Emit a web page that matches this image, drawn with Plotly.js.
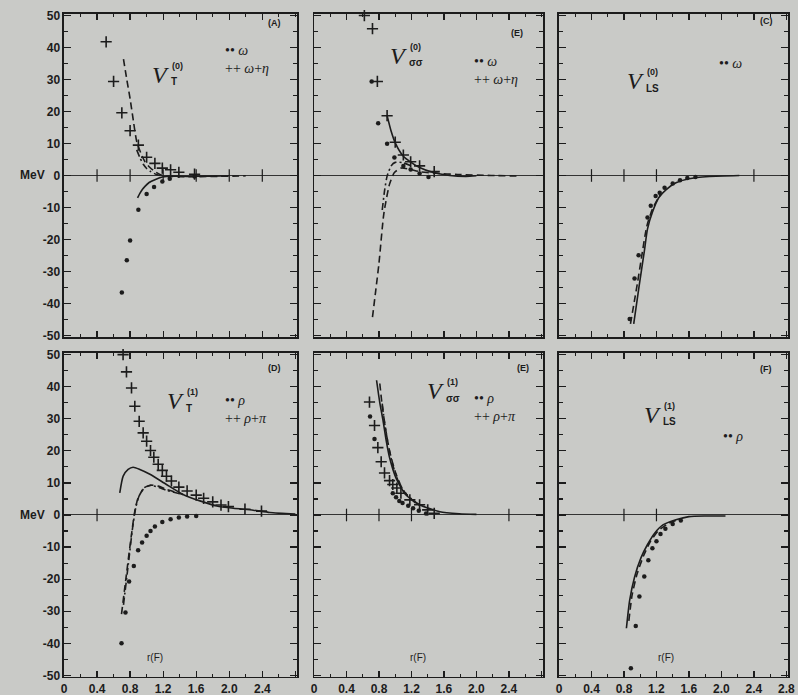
<!DOCTYPE html>
<html>
<head>
<meta charset="utf-8">
<script src="https://cdn.plot.ly/plotly-3.0.1.min.js"></script>
<style>html,body{margin:0;padding:0;background:#c9cac7;}#plot{width:798px;height:695px;}</style>
</head>
<body>
<div id="plot"></div>
<script>
// ---------- DATA ----------
// Panel A : V_T^(0)
const aCrossX = [0.51,0.60,0.70,0.80,0.90,1.00,1.10,1.19,1.29,1.39,1.58];
const aCrossY = [41.8,29.4,19.6,14.0,9.5,5.7,3.8,2.3,1.8,1.0,0.4];
const aDotX = [0.70,0.76,0.80,0.90,1.00,1.09,1.19,1.28,1.58];
const aDotY = [-36.6,-26.5,-20.3,-10.7,-5.8,-3.6,-1.9,-1.0,-0.3];
const aDashX = [0.72,0.76,0.80,0.84,0.88,0.93,0.98,1.04,1.10,1.19,1.30,1.50,1.80,2.20];
const aDashY = [36.4,30.0,24.0,17.0,10.6,7.0,4.3,2.5,1.2,0.0,-0.3,-0.4,-0.3,-0.1];
const aDashDotX = [0.88,0.92,0.96,1.00,1.05,1.12,1.20];
const aDashDotY = [8.0,5.5,3.5,2.2,1.2,0.3,-0.2];
const aSolidX = [0.89,0.92,0.95,0.98,1.03,1.10,1.19,1.30,1.50,1.80,2.00];
const aSolidY = [-7.0,-5.5,-4.3,-3.4,-2.2,-1.3,-0.5,-0.2,-0.3,-0.2,-0.1];
const aZeroTicks = [0.4,0.8,1.2,1.6,2.0,2.4];

// Panel B : V_sigma-sigma^(0)
const bCrossX = [0.62,0.72,0.78,0.90,1.00,1.10,1.19,1.30,1.48];
const bCrossY = [50.0,45.9,29.4,18.7,10.4,6.4,4.3,3.0,1.2];
const bDotX = [0.71,0.79,0.90,0.99,1.10,1.19,1.30,1.41];
const bDotY = [29.4,16.3,9.9,5.6,3.0,1.9,0.6,-0.5];
const bSolidX = [0.90,0.95,1.00,1.10,1.19,1.30,1.46,1.67,1.87,2.00];
const bSolidY = [18.7,13.8,10.2,6.0,4.2,2.5,1.0,0.0,-0.3,-0.1];
const bDashX = [0.72,0.76,0.80,0.86,0.93,0.99,1.07,1.17,1.30,1.50,1.77,2.18,2.53];
const bDashY = [-44.3,-36.0,-27.4,-11.9,-2.7,0.9,2.3,2.0,1.2,0.7,0.3,0.0,-0.2];
const bDashDotX = [0.84,0.87,0.90,0.95,1.00,1.09,1.20];
const bDashDotY = [-10.8,-4.5,-0.2,3.0,4.1,4.0,3.0];
const bZeroTicks = [];

// Panel C : V_LS^(0)
const cDotX = [0.87,0.93,0.98,1.09,1.13,1.19,1.24,1.30,1.40,1.49,1.58,1.68];
const cDotY = [-44.9,-32.2,-24.9,-13.1,-9.5,-6.4,-5.4,-3.8,-2.5,-1.5,-0.8,-0.5];
const cSolidX = [0.92,0.99,1.05,1.09,1.15,1.23,1.32,1.44,1.60,1.85,2.22];
const cSolidY = [-46.4,-34.0,-23.8,-16.7,-11.5,-6.9,-4.4,-2.3,-1.0,-0.3,0.0];
const cDashX = [0.88,0.93,0.97,1.02,1.08,1.15,1.25];
const cDashY = [-46.4,-39.0,-33.0,-25.0,-16.0,-10.5,-5.8];
const cZeroTicks = [0.4,0.8,1.2,2.4];

// Panel D : V_T^(1)
const dCrossX = [0.715,0.756,0.817,0.857,0.91,0.958,1.0,1.047,1.087,1.14,1.19,1.24,1.30,1.39,1.49,1.60,1.69,1.80,1.90,1.99,2.19,2.39];
const dCrossY = [50.0,44.6,39.6,33.9,29.2,25.6,23.0,20.1,18.0,15.8,13.9,12.1,10.6,8.7,7.5,6.2,5.2,4.1,3.1,2.6,1.8,1.2];
const dDotX = [0.696,0.744,0.788,0.845,0.897,0.945,1.0,1.047,1.10,1.19,1.29,1.39,1.49,1.60];
const dDotY = [-40.0,-30.4,-20.7,-15.9,-11.0,-8.6,-6.5,-5.0,-3.6,-2.2,-1.3,-0.8,-0.5,-0.3];
const dSolidX = [0.675,0.716,0.776,0.836,0.918,1.04,1.24,1.44,1.645,1.85,2.05,2.29,2.49,2.80];
const dSolidY = [6.9,12.1,14.2,14.9,14.2,12.7,9.5,6.4,4.4,2.8,2.1,1.5,0.8,0.3];
const dDashX = [0.696,0.756,0.817,0.857,0.897,0.958,1.04,1.14,1.24,1.44];
const dDashY = [-30.9,-18.4,-6.0,1.2,5.4,8.0,9.3,9.0,8.0,6.4];
const dDashDotX = [0.72,0.78,0.83,0.87,0.91,0.97,1.05,1.15,1.25,1.44];
const dDashDotY = [-28.0,-15.0,-4.0,2.5,6.0,8.5,9.2,8.6,7.6,6.4];
const dZeroTicks = [0.4];

// Panel E : V_sigma-sigma^(1)
const eCrossX = [0.683,0.745,0.786,0.827,0.868,0.93,0.97,1.02,1.07,1.18,1.30,1.40,1.48];
const eCrossY = [35.2,27.9,21.0,16.6,13.1,10.7,9.5,8.4,6.8,4.7,3.2,1.6,0.5];
const eDotX = [0.69,0.745,0.97,1.01,1.05,1.09,1.16,1.22,1.29,1.38];
const eDotY = [30.7,23.7,6.8,5.5,4.4,3.7,2.9,2.1,1.3,0.5];
const eSolidX = [0.77,0.81,0.85,0.89,0.93,1.01,1.13,1.30,1.55,1.79,2.00];
const eSolidY = [42.0,35.0,29.4,23.0,17.9,11.5,6.3,3.2,1.0,0.4,0.2];
const eDashX = [0.81,0.84,0.88,0.93,1.00,1.10,1.26];
const eDashY = [41.0,34.0,27.0,20.0,13.5,7.6,3.5];
const eDashDotX = [0.84,0.87,0.91,0.96,1.03,1.13,1.30];
const eDashDotY = [34.7,28.5,22.5,16.5,11.0,6.6,3.0];
const eZeroTicks = [0.4,0.8,1.2,2.4];

// Panel F : V_LS^(1)
const fDotX = [0.885,0.945,0.99,1.05,1.10,1.15,1.20,1.25,1.31,1.40,1.50];
const fDotY = [-47.8,-34.6,-25.4,-19.2,-14.1,-10.4,-8.2,-5.9,-4.3,-2.8,-1.7];
const fSolidX = [0.83,0.87,0.93,1.01,1.09,1.18,1.28,1.44,1.60,1.81,2.05];
const fSolidY = [-35.3,-26.6,-19.4,-13.3,-9.2,-5.6,-3.1,-1.5,-0.5,-0.3,-0.3];
const fDashX = [0.86,0.90,0.96,1.04,1.12,1.22,1.35,1.50];
const fDashY = [-33.0,-25.0,-18.5,-12.8,-8.5,-5.0,-2.6,-1.2];
const fZeroTicks = [0.8,1.2];

// Tick labels
const xTickVals = [0,0.4,0.8,1.2,1.6,2.0,2.4,2.8];
const xTickText = ['0','0.4','0.8','1.2','1.6','2.0','2.4',''];
const xTickTextLast = ['0','0.4','0.8','1.2','1.6','2.0','2.4','2.8'];
const yTickVals = [50,40,30,20,10,0,-10,-20,-30,-40,-50];
const yTickText = ['50','40','30','20','10','0','-10','-20','-30','-40','-50'];

// Panel texts
const panelTags = ['(A)','(E)','(C)','(D)','(E)','(F)'];
const potSub = ['T','σσ','LS','T','σσ','LS'];
const potSup = ['(0)','(0)','(0)','(1)','(1)','(1)'];
const legendText = [
  '•• <i>ω</i><br>++ <i>ω</i>+<i>η</i>',
  '•• <i>ω</i><br>++ <i>ω</i>+<i>η</i>',
  '•• <i>ω</i>',
  '•• <i>ρ</i><br>++ <i>ρ</i>+<i>π</i>',
  '•• <i>ρ</i><br>++ <i>ρ</i>+<i>π</i>',
  '•• <i>ρ</i>'
];

// ---------- STYLE / LAYOUT ----------
const INK = '#1c1c1c';
const BG = '#c9cac7';
const colDom = [[0.0802,0.3722],[0.3935,0.6805],[0.7005,0.9875]];
const rowDom = [[0.5151,0.9799],[0.0259,0.4921]];
const tickFont = {family:'Liberation Sans, Arial, sans-serif', size:12, color:INK, weight:'bold'};

const traces = [];
function pts(ax, x, y, kind){
  const m = kind==='dot'
    ? {symbol:'circle', size:4.5, color:INK}
    : {symbol:'cross-thin-open', size:8, line:{width:1.6, color:INK}, color:INK};
  traces.push({type:'scatter', mode:'markers', x:x, y:y, xaxis:'x'+ax, yaxis:'y'+ax, marker:m, showlegend:false, hoverinfo:'skip', cliponaxis:false});
}
function line(ax, x, y, dash){
  traces.push({type:'scatter', mode:'lines', x:x, y:y, xaxis:'x'+ax, yaxis:'y'+ax, line:{color:INK, width:1.6, dash:dash, shape:'spline', smoothing:0.6}, showlegend:false, hoverinfo:'skip'});
}
function zt(ax, x){
  if(!x.length) return;
  traces.push({type:'scatter', mode:'markers', x:x, y:x.map(()=>0), xaxis:'x'+ax, yaxis:'y'+ax, marker:{symbol:'line-ns-open', size:9, color:INK, line:{width:1.2, color:INK}}, showlegend:false, hoverinfo:'skip'});
}
const LONG = '7px,4px';
const DD = '7px,3px,2px,3px';

// A
zt('', aZeroTicks);
pts('', aCrossX, aCrossY, 'cross'); pts('', aDotX, aDotY, 'dot');
line('', aDashX, aDashY, LONG); line('', aDashDotX, aDashDotY, DD); line('', aSolidX, aSolidY, 'solid');
// B
zt('2', bZeroTicks);
pts('2', bCrossX, bCrossY, 'cross'); pts('2', bDotX, bDotY, 'dot');
line('2', bSolidX, bSolidY, 'solid'); line('2', bDashX, bDashY, LONG); line('2', bDashDotX, bDashDotY, DD);
// C
zt('3', cZeroTicks);
pts('3', cDotX, cDotY, 'dot');
line('3', cSolidX, cSolidY, 'solid'); line('3', cDashX, cDashY, LONG);
// D
zt('4', dZeroTicks);
pts('4', dCrossX, dCrossY, 'cross'); pts('4', dDotX, dDotY, 'dot');
line('4', dSolidX, dSolidY, 'solid'); line('4', dDashX, dDashY, LONG); line('4', dDashDotX, dDashDotY, DD);
// E
zt('5', eZeroTicks);
pts('5', eCrossX, eCrossY, 'cross'); pts('5', eDotX, eDotY, 'dot');
line('5', eSolidX, eSolidY, 'solid'); line('5', eDashX, eDashY, LONG); line('5', eDashDotX, eDashDotY, DD);
// F
zt('6', fZeroTicks);
pts('6', fDotX, fDotY, 'dot');
line('6', fSolidX, fSolidY, 'solid'); line('6', fDashX, fDashY, LONG);

const layout = {
  width:798, height:695,
  margin:{l:0,r:0,t:0,b:0},
  paper_bgcolor:BG, plot_bgcolor:BG,
  showlegend:false,
  annotations:[]
};

for(let i=0;i<6;i++){
  const n = i===0 ? '' : String(i+1);
  const col = i%3, row = Math.floor(i/3);
  layout['xaxis'+n] = {
    domain:colDom[col], range:[0,2.82], anchor:'y'+n,
    showline:true, linecolor:INK, linewidth:1.5, mirror:'ticks',
    ticks:'inside', ticklen:6, tickwidth:1.3, tickcolor:INK,
    tickmode:'array', tickvals:xTickVals,
    ticktext: col===2 ? xTickTextLast : xTickText,
    showticklabels: row===1, tickfont:tickFont,
    minor:{ticks:'inside', ticklen:3, tickwidth:1.1, tickcolor:INK, dtick:0.2, tick0:0},
    showgrid:false, zeroline:false, fixedrange:true
  };
  layout['yaxis'+n] = {
    domain:rowDom[row], range:[-50.5,50.5], anchor:'x'+n,
    showline:true, linecolor:INK, linewidth:1.5, mirror:'ticks',
    ticks:'inside', ticklen:7, tickwidth:1.3, tickcolor:INK,
    tickmode:'array', tickvals:yTickVals, ticktext:yTickText,
    showticklabels: col===0, tickfont:tickFont,
    minor:{ticks:'inside', ticklen:4, tickwidth:1.1, tickcolor:INK, dtick:5, tick0:0},
    showgrid:false, zeroline:true, zerolinecolor:'#333', zerolinewidth:1, fixedrange:true
  };
}

function ann(ax, x, y, text, opts){
  layout.annotations.push(Object.assign({xref:'x'+ax, yref:'y'+ax, x:x, y:y, text:text, showarrow:false,
    font:{family:'Liberation Serif, DejaVu Serif, serif', size:13, color:INK}}, opts||{}));
}
const labPos = [[1.29,31.5],[1.17,37.4],[1.07,29.5],[1.48,35.5],[1.63,38.5],[1.28,31.2]];
const legPos = [[1.93,36.2],[1.95,32.8],[1.95,35.1],[1.93,33],[1.95,33.4],[2.0,24.5]];
const tagPos = [[2.55,47.8],[2.5,44.5],[2.55,48.2],[2.55,45.8],[2.57,45.7],[2.55,45.5]];
for(let i=0;i<6;i++){
  const n = i===0 ? '' : String(i+1);
  const [lx,ly] = labPos[i];
  ann(n, lx, ly, '<i>V</i>', {xanchor:'right', font:{family:'Liberation Serif, serif', size:24, color:INK}});
  ann(n, lx, ly, potSup[i], {xanchor:'left', yshift:9, xshift:-1, font:{family:'Liberation Sans, sans-serif', size:9, color:INK, weight:'bold'}});
  ann(n, lx, ly, potSub[i], {xanchor:'left', yshift:-7, xshift:-2, font:{family:'Liberation Sans, sans-serif', size:10, color:INK, weight:'bold'}});
  ann(n, legPos[i][0], legPos[i][1], legendText[i], {xanchor:'left', align:'left', font:{family:'Liberation Serif, serif', size:14, color:INK}});
  ann(n, tagPos[i][0], tagPos[i][1], panelTags[i], {font:{family:'Liberation Sans, sans-serif', size:9, color:INK, weight:'bold'}});
  if(i>=3){
    const rx = [1.10,1.28,1.32][i-3];
    ann(n, rx, -44.5, 'r(F)', {font:{family:'Liberation Sans, sans-serif', size:10, color:INK}});
  }
}
layout.annotations.push({xref:'paper', yref:'y', x:0.023, y:0, text:'MeV', showarrow:false, font:tickFont});
layout.annotations.push({xref:'paper', yref:'y4', x:0.023, y:0, text:'MeV', showarrow:false, font:tickFont});

Plotly.newPlot('plot', traces, layout, {staticPlot:true, displayModeBar:false});
</script>
</body>
</html>
